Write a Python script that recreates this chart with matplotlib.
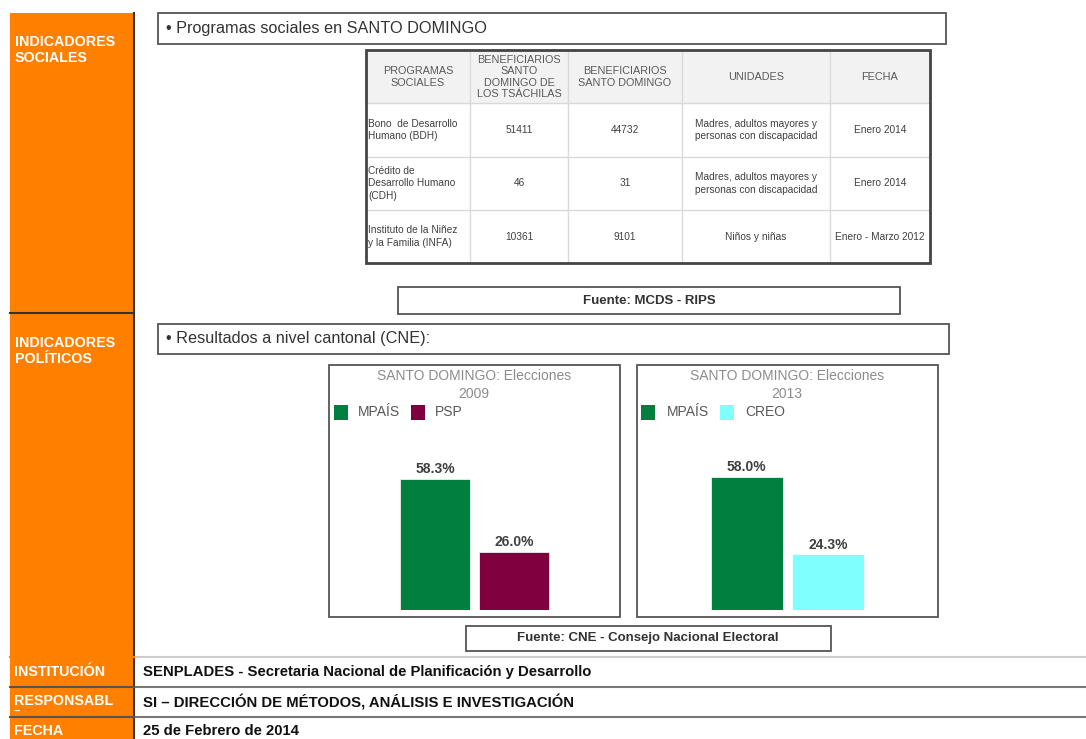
import matplotlib.pyplot as plt
from matplotlib.patches import Rectangle

plt.rcParams['font.family'] = ['Liberation Sans', 'DejaVu Sans']

# table data
col_headers = ["PROGRAMAS\nSOCIALES", "BENEFICIARIOS\nSANTO\nDOMINGO DE\nLOS TSÁCHILAS",
               "BENEFICIARIOS\nSANTO DOMINGO", "UNIDADES", "FECHA"]
programas = ["Bono  de Desarrollo\nHumano (BDH)", "Crédito de\nDesarrollo Humano\n(CDH)",
             "Instituto de la Niñez\ny la Familia (INFA)"]
benef_tsachilas = [51411, 46, 10361]
benef_sd = [44732, 31, 9101]
unidades = ["Madres, adultos mayores y\npersonas con discapacidad",
            "Madres, adultos mayores y\npersonas con discapacidad", "Niños y niñas"]
fechas = ["Enero 2014", "Enero 2014", "Enero - Marzo 2012"]

# election data
partidos_2009 = ["MPAÍS", "PSP"]
votos_2009 = [58.3, 26.0]
partidos_2013 = ["MPAÍS", "CREO"]
votos_2013 = [58.0, 24.3]

ORANGE = '#ff8000'
GREEN = '#007f3f'
MAROON = '#7f003f'
CYAN = '#80ffff'
W, H = 1086, 739

fig = plt.figure(figsize=(W / 100, H / 100), dpi=100)
bg = fig.add_axes([0, 0, 1, 1])
bg.set_xlim(0, W)
bg.set_ylim(H, 0)
bg.axis('off')


def box(x0, y0, x1, y1, lw=1.3, ec='#555555', fc='white', z=1):
    bg.add_patch(Rectangle((x0, y0), x1 - x0, y1 - y0, lw=lw, ec=ec, fc=fc, zorder=z))


# orange left column
bg.add_patch(Rectangle((10, 13), 123, H - 13, fc=ORANGE, ec='none', zorder=1))
bg.plot([134, 134], [13, H], color='#333333', lw=1.5, zorder=2)
bg.plot([10, 134], [313, 313], color='#333333', lw=1.5, zorder=2)
for yy, c in [(657, '#cccccc'), (687, '#777777'), (717, '#777777')]:
    bg.plot([134, W], [yy, yy], color=c, lw=1.5, zorder=2)
    bg.plot([10, 134], [yy, yy], color='#555555' if yy > 660 else '#ff8000', lw=1.5, zorder=2)

lab = dict(color='white', fontsize=10.3, fontweight='bold', va='center', ha='left', zorder=3)
bg.text(15, 42, "INDICADORES", **lab)
bg.text(15, 58, "SOCIALES", **lab)
bg.text(15, 343, "INDICADORES", **lab)
bg.text(15, 359, "POLÍTICOS", **lab)
bg.text(14, 672, "INSTITUCIÓN", **lab)
bg.text(14, 701, "RESPONSABL", **lab)
bg.text(14, 712, "–", fontsize=8, color='white', fontweight='bold', va='center', ha='left', zorder=3)
bg.text(14, 731, "FECHA", **lab)

info = dict(color='#111111', fontsize=10.7, fontweight='bold', va='center', ha='left')
bg.text(143, 672, "SENPLADES - Secretaria Nacional de Planificación y Desarrollo", **info)
bg.text(143, 702, "SI – DIRECCIÓN DE MÉTODOS, ANÁLISIS E INVESTIGACIÓN", **info)
bg.text(143, 731, "25 de Febrero de 2014", **info)

# section title boxes
box(158, 13, 946, 44)
bg.text(166, 29, "• Programas sociales en SANTO DOMINGO", fontsize=11.7, color='#333333',
        va='center', ha='left', zorder=3)
box(158, 324, 949, 354)
bg.text(166, 339, "• Resultados a nivel cantonal (CNE):", fontsize=11.7, color='#333333',
        va='center', ha='left', zorder=3)

# table
col_x = [366, 470, 568, 682, 830, 930]
row_y = [50, 103, 157, 210, 263]
bg.add_patch(Rectangle((366, 50), 564, 53, fc='#f2f2f2', ec='none', zorder=1))
for x in col_x[1:-1]:
    bg.plot([x, x], [50, 263], color='#d9d9d9', lw=1, zorder=2)
for y in row_y[1:-1]:
    bg.plot([366, 930], [y, y], color='#d9d9d9', lw=1, zorder=2)
bg.add_patch(Rectangle((366, 50), 564, 213, fc='none', ec='#444444', lw=2, zorder=3))

for i, h in enumerate(col_headers):
    cx = (col_x[i] + col_x[i + 1]) / 2
    bg.text(cx, 77, h, fontsize=7.8, color='#595959', ha='center', va='center',
            linespacing=1.2, zorder=4)

tk = dict(fontsize=7.3, color='#404040', va='center', zorder=4, linespacing=1.35)
for r in range(len(programas)):
    cy = (row_y[r + 1] + row_y[r + 2]) / 2
    bg.text(368, cy, programas[r], ha='left', **tk)
    bg.text((col_x[1] + col_x[2]) / 2, cy, str(benef_tsachilas[r]), ha='center', **tk)
    bg.text((col_x[2] + col_x[3]) / 2, cy, str(benef_sd[r]), ha='center', **tk)
    bg.text((col_x[3] + col_x[4]) / 2, cy, unidades[r], ha='center', **tk)
    bg.text((col_x[4] + col_x[5]) / 2, cy, fechas[r], ha='center', **tk)

# fuente boxes
box(398, 287, 900, 314)
bg.text(649, 301, "Fuente: MCDS - RIPS", fontsize=9.5, fontweight='bold', color='#333333',
        ha='center', va='center', zorder=3)
box(466, 626, 831, 651)
bg.text(648, 638.5, "Fuente: CNE - Consejo Nacional Electoral", fontsize=9.5, fontweight='bold',
        color='#333333', ha='center', va='center', zorder=3)

# chart frames
box(329, 365, 620, 617)
box(637, 365, 938, 617)


def chart(x0, x1, top, base, names, vals, colors, year, leg_x, title_x):
    ax = fig.add_axes([x0 / W, 1 - base / H, (x1 - x0) / W, (base - top) / H])
    ax.axis('off')
    ax.patch.set_alpha(0)
    bars = ax.bar(range(len(vals)), vals, width=0.89, color=colors, edgecolor='white', lw=0.5)
    ax.set_ylim(0, 100)
    ax.set_xlim(-1.35, 2.35)
    for b, v in zip(bars, vals):
        ax.text(b.get_x() + b.get_width() / 2, v + 1.2, f"{v:.1f}%", ha='center', va='bottom',
                fontsize=10, fontweight='bold', color='#404040')
    bg.text(title_x, 385, f"SANTO DOMINGO: Elecciones\n{year}", fontsize=10, color='#8c8c8c',
            ha='center', va='center', linespacing=1.3, zorder=3)
    for (lx, tx), n, c in zip(leg_x, names, colors):
        bg.add_patch(Rectangle((lx, 405), 14, 15, fc=c, ec='none', zorder=3))
        bg.text(tx, 412, n, fontsize=10, color='#595959', ha='left', va='center', zorder=3)


chart(329, 620, 385, 610, partidos_2009, votos_2009, [GREEN, MAROON], 2009,
      [(334, 358), (411, 435)], 474)
chart(637, 938, 381, 610, partidos_2013, votos_2013, [GREEN, CYAN], 2013,
      [(641, 667), (720, 745)], 787)

fig.savefig("out.png", dpi=100)
